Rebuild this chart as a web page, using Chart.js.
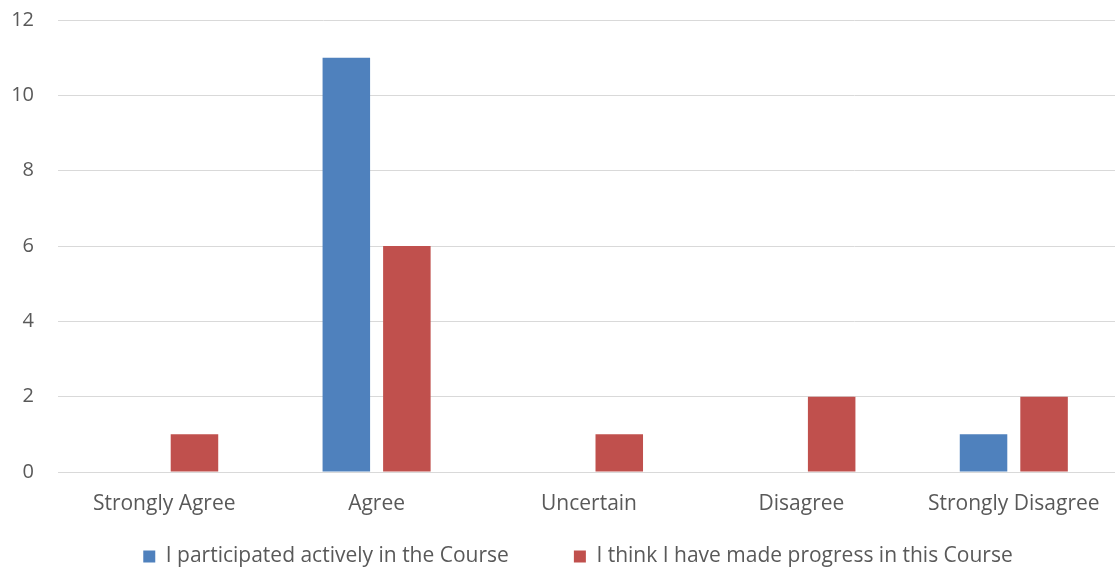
<!DOCTYPE html>
<html>
<head>
<meta charset="utf-8">
<script src="https://cdn.jsdelivr.net/npm/chart.js@4"></script>
<style>
    html, body { margin: 0; padding: 0; background: #ffffff; overflow: hidden; }
    body { width: 1115px; height: 574px; position: relative; }
    /* canvas a touch larger than the window so the plot reaches the edges like the original */
    #wrap { width: 1120px; height: 590px; position: absolute; left: 0; top: -16px; }
</style>
</head>
<body>
<div id="wrap"><canvas id="surveyChart"></canvas></div>
<script>
// categories and series
const categories = ["Strongly Agree", "Agree", "Uncertain", "Disagree", "Strongly Disagree"];
const participated = [0, 11, 0, 0, 1];
const progress = [1, 6, 1, 2, 2];
const yTicks = [0, 2, 4, 6, 8, 10, 12];

const seriesNames = ["I participated actively in the Course", "I think I have made progress in this Course"];

document.addEventListener("DOMContentLoaded", function () {
    const ctx = document.getElementById("surveyChart").getContext("2d");
    Chart.defaults.font.family = "'Open Sans', 'Noto Sans', sans-serif";
    Chart.defaults.color = "#595959";

    // the original legend sits a bit right of centre and a bit lower
    const nudgeLegend = {
        id: "nudgeLegend",
        afterLayout(chart) {
            const lg = chart.legend;
            if (!lg) return;
            lg.left += 18; lg.right += 18;
            lg.top += 3; lg.bottom += 3;
        }
    };

    new Chart(ctx, {
        type: "bar",
        data: {
            labels: categories,
            datasets: [
                {
                    label: seriesNames[0],
                    data: participated,
                    backgroundColor: "#4F81BD",
                    categoryPercentage: 0.57,
                    barPercentage: 0.785
                },
                {
                    label: seriesNames[1],
                    data: progress,
                    backgroundColor: "#C0504D",
                    categoryPercentage: 0.57,
                    barPercentage: 0.785
                }
            ]
        },
        options: {
            responsive: true,
            maintainAspectRatio: false,
            animation: false,
            layout: { padding: 0 },
            plugins: {
                tooltip: { enabled: false },
                legend: {
                    position: "bottom",
                    labels: {
                        boxWidth: 12,
                        boxHeight: 12,
                        padding: 5,
                        font: { size: 21 },
                        color: "#595959",
                        // pad the first entry so the second sits further right, like the original
                        generateLabels: function (chart) {
                            const items = Chart.defaults.plugins.legend.labels.generateLabels(chart);
                            items.forEach((it, i) => {
                                if (i === 0) it.text = it.text + "           ";
                            });
                            return items;
                        }
                    }
                }
            },
            scales: {
                x: {
                    grid: { display: false, drawTicks: false },
                    border: { color: "#D9D9D9", width: 1 },
                    ticks: { font: { size: 21 }, padding: 19 },
                    afterFit: function (scale) { scale.height = 66; }
                },
                y: {
                    min: 0,
                    max: 12,
                    afterBuildTicks: function (scale) {
                        scale.ticks = yTicks.map(v => ({ value: v }));
                    },
                    grid: { color: "#D9D9D9", lineWidth: 1, drawTicks: false },
                    border: { display: false },
                    ticks: { font: { size: 20 }, padding: 24 },
                    afterFit: function (scale) { scale.width = 58; }
                }
            }
        },
        plugins: [nudgeLegend]
    });
});
</script>
</body>
</html>
